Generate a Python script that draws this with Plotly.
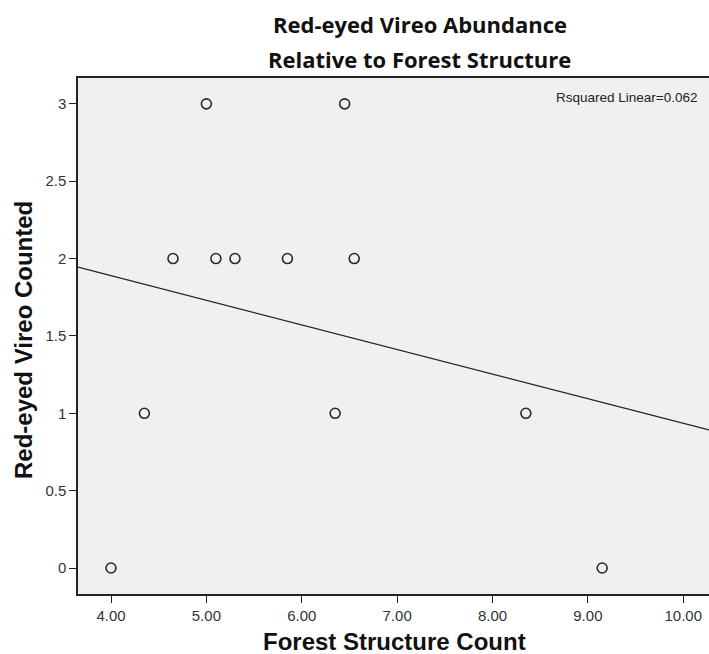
import numpy as np
import plotly.graph_objects as go

# Data
forest_structure = [4.00, 4.35, 4.65, 5.00, 5.10, 5.30, 5.85, 6.35, 6.45, 6.55, 8.35, 9.15]
vireo_counted = [0, 1, 2, 3, 2, 2, 2, 1, 3, 2, 1, 0]
x_ticks = [4, 5, 6, 7, 8, 9, 10]
y_ticks = [0, 0.5, 1, 1.5, 2, 2.5, 3]
x_range = [3.654, 10.27]
y_range = [-0.168, 3.167]

x = np.array(forest_structure)
y = np.array(vireo_counted)
slope, intercept = np.polyfit(x, y, 1)
r2 = np.corrcoef(x, y)[0, 1] ** 2
fit_x = np.array(x_range)
fit_y = intercept + slope * fit_x

W, H = 709, 654
L, T, B = 78, 78, 60
PW, PH = W - L, H - T - B

def px(xf):
    return (xf - L) / PW

def py(yf):
    return (H - B - yf) / PH

fig = go.Figure()
fig.add_trace(go.Scatter(x=fit_x, y=fit_y, mode="lines",
                         line=dict(color="#222222", width=1.2),
                         hoverinfo="skip", showlegend=False))
fig.add_trace(go.Scatter(x=forest_structure, y=vireo_counted, mode="markers",
                         marker=dict(symbol="circle-open", size=10,
                                     color="#2a2a2a", line=dict(width=1.6)),
                         showlegend=False))

title_font = dict(family="Open Sans", size=22, color="#111111")
axis_title_font = dict(family="Liberation Sans", size=24, color="#111111")
tick_font = dict(family="Liberation Sans", size=15, color="#333333")

fig.update_layout(
    width=W, height=H,
    margin=dict(l=L, r=0, t=T, b=B),
    paper_bgcolor="white", plot_bgcolor="#f0f0f0",
    title=dict(text="<b>Red-eyed Vireo Abundance</b>", x=420 / W, xanchor="center",
               y=1 - 25 / H, yanchor="middle", font=title_font),
    annotations=[
        dict(text="<b>Relative to Forest Structure</b>", xref="paper", yref="paper",
             x=px(419), y=py(59), xanchor="center", yanchor="middle",
             showarrow=False, font=title_font),
        dict(text="Rsquared Linear=%.3f" % r2, xref="paper", yref="paper",
             x=px(699), y=py(98), xanchor="right", yanchor="middle",
             showarrow=False, font=dict(family="Liberation Sans", size=13.5, color="#222222")),
        dict(text="<b>Forest Structure Count</b>", xref="paper", yref="paper",
             x=px(394), y=py(641), xanchor="center", yanchor="middle",
             showarrow=False, font=axis_title_font),
        dict(text="<b>Red-eyed Vireo Counted</b>", xref="paper", yref="paper",
             x=px(23), y=py(340), xanchor="center", yanchor="middle", textangle=-90,
             showarrow=False, font=axis_title_font),
    ],
    xaxis=dict(range=x_range, tickvals=x_ticks, tickformat=".2f",
               showgrid=False, zeroline=False,
               showline=True, linecolor="#222222", linewidth=1.5, mirror=True,
               ticks="outside", ticklen=7, tickcolor="#222222",
               tickfont=tick_font),
    yaxis=dict(range=y_range, tickvals=y_ticks,
               showgrid=False, zeroline=False,
               showline=True, linecolor="#222222", linewidth=1.5,
               ticks="outside", ticklen=7, tickcolor="#222222",
               tickfont=tick_font),
)

fig.write_html("out.html", config={"displayModeBar": False},
               post_script="document.body.style.margin='0';document.body.style.overflow='hidden';")
